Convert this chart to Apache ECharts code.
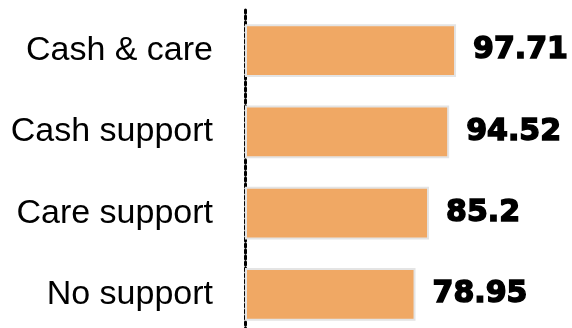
<!doctype html>
<html lang="en">
<head>
    <meta charset="utf-8">
    <title>Support bars</title>
    <style>
        html, body { margin: 0; padding: 0; background: #fff; }
        #chart { width: 572px; height: 328px; }
    </style>
</head>
<body>
    <div id="chart"></div>
    <script src="https://cdn.jsdelivr.net/npm/echarts@6/dist/echarts.min.js"></script>
    <script>
        var categories = ['Cash & care', 'Cash support', 'Care support', 'No support'];
        var values = [97.71, 94.52, 85.2, 78.95];

        var chart = echarts.init(document.getElementById('chart'), null, { renderer: 'canvas' });
        chart.setOption({
            animation: false,
            backgroundColor: '#fff',
            grid: {
                left: 245, top: 10, width: 216, height: 325,
                outerBoundsMode: 'none'
            },
            xAxis: {
                type: 'value',
                min: 0,
                max: 100,
                show: false
            },
            yAxis: {
                type: 'category',
                data: categories,
                inverse: true,
                axisTick: { show: false },
                axisLine: {
                    show: true,
                    lineStyle: { color: '#000', width: 3, type: 'dotted' }
                },
                axisLabel: {
                    margin: 32,
                    color: '#000',
                    fontSize: 34,
                    fontFamily: 'Liberation Sans, Arial, sans-serif'
                }
            },
            series: [{
                type: 'bar',
                data: values,
                barCategoryGap: '35%',
                itemStyle: {
                    color: '#F0A864',
                    borderColor: '#e4e4e4',
                    borderWidth: 2
                },
                label: {
                    show: true,
                    position: 'right',
                    distance: 17,
                    color: '#000',
                    fontSize: 30,
                    fontWeight: 'bold',
                    fontFamily: 'DejaVu Sans, sans-serif',
                    textBorderColor: '#000',
                    textBorderWidth: 1.5
                }
            }]
        });
    </script>
</body>
</html>
